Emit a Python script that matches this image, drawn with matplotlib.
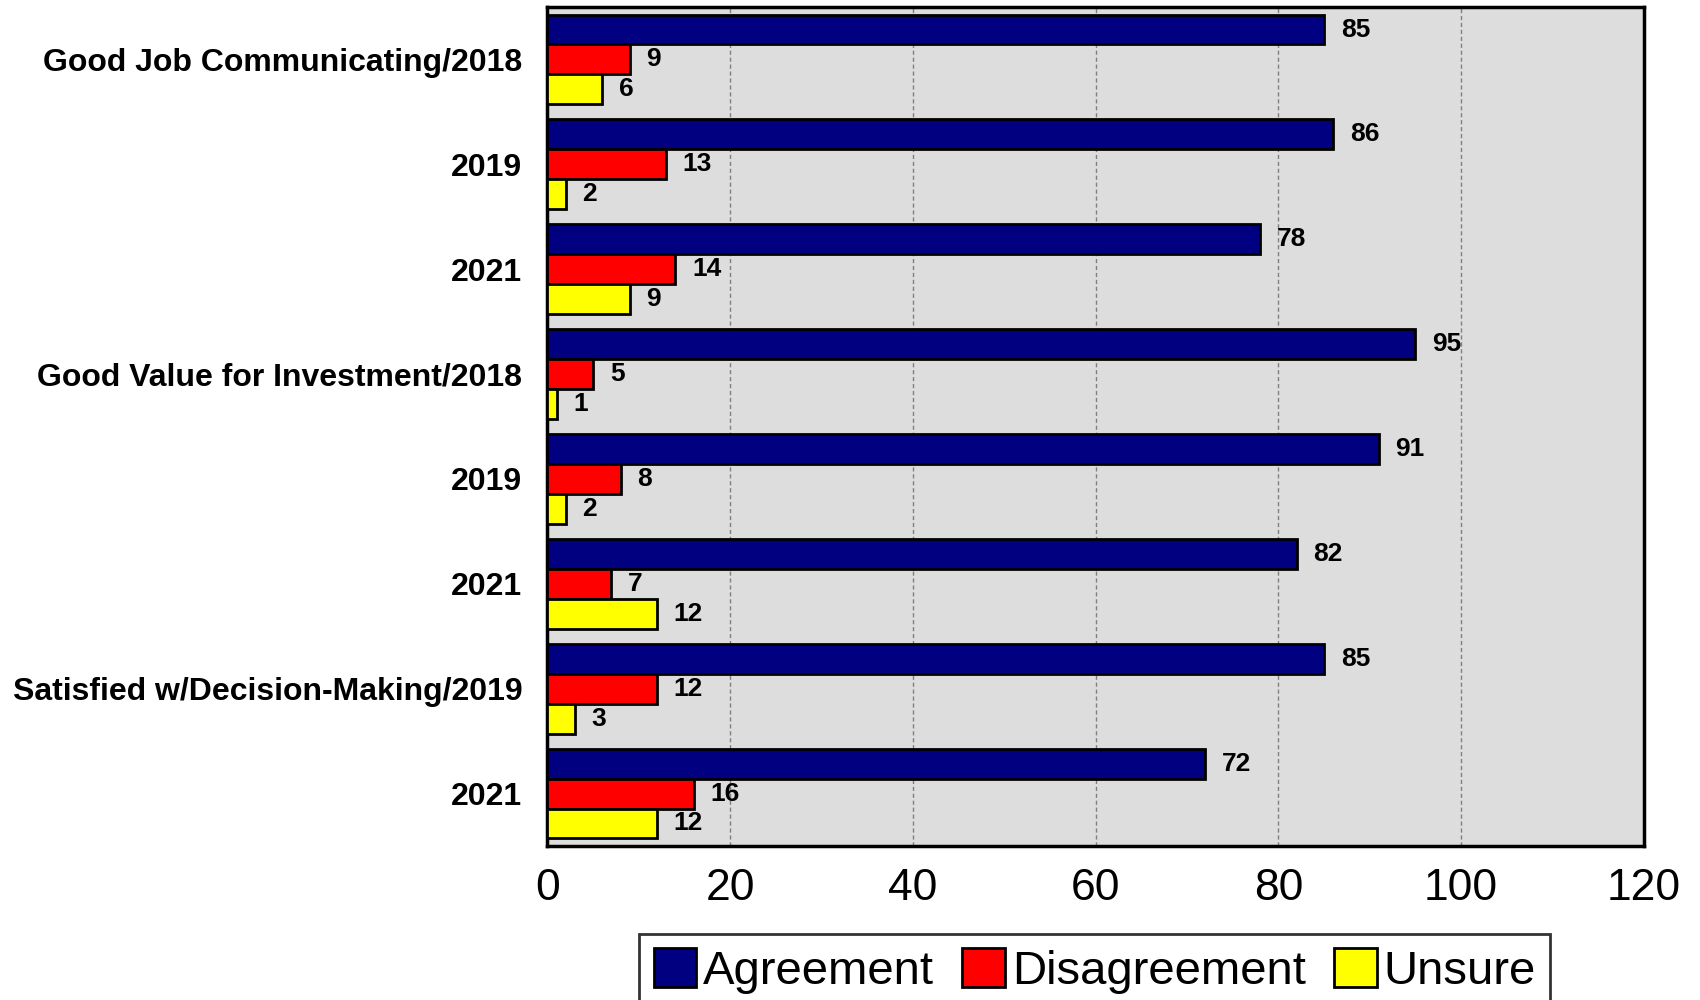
import numpy as np
import matplotlib.pyplot as plt

# survey results, top to bottom
categories = ["Good Job Communicating/2018", "2019", "2021",
              "Good Value for Investment/2018", "2019", "2021",
              "Satisfied w/Decision-Making/2019", "2021"]
agreement = [85, 86, 78, 95, 91, 82, 85, 72]
disagreement = [9, 13, 14, 5, 8, 7, 12, 16]
unsure = [6, 2, 9, 1, 2, 12, 3, 12]

series = [("Agreement", agreement, "#000080"),
          ("Disagreement", disagreement, "#FF0000"),
          ("Unsure", unsure, "#FFFF00")]

plt.rcParams["font.family"] = ["Liberation Sans", "DejaVu Sans"]

fig = plt.figure(figsize=(17, 10), dpi=100)
ax = fig.add_axes([0.322, 0.154, 0.645, 0.839])
ax.set_facecolor("#DDDDDD")

y = np.arange(len(categories))
h = 0.285
for i, (name, vals, col) in enumerate(series):
    pos = y + (i - 1) * h
    bars = ax.barh(pos, vals, height=h, color=col, edgecolor="black",
                   linewidth=2, label=name, zorder=3)
    for b, v in zip(bars, vals):
        ax.annotate(str(v), (v, b.get_y() + h / 2), xytext=(12, 0),
                    textcoords="offset points", va="center", ha="left",
                    fontsize=19, fontweight="bold", zorder=4)

ax.set_xlim(0, 120)
ax.set_ylim(len(categories) - 0.5, -0.5)
ax.set_xticks(range(0, 121, 20))
ax.set_yticks(y)
ax.set_yticklabels(categories, fontsize=23, fontweight="bold")
ax.tick_params(axis="y", length=0, pad=18)
ax.tick_params(axis="x", length=0, labelsize=32, pad=16)
ax.grid(axis="x", linestyle=(0, (3, 2)), color="#808080", linewidth=1, zorder=0)
for s in ax.spines.values():
    s.set_linewidth(2.5)
    s.set_color("black")

leg = ax.legend(loc="upper center", bbox_to_anchor=(0.644, 0.066),
                bbox_transform=fig.transFigure, ncol=3, fontsize=34,
                frameon=True, fancybox=False, edgecolor="black",
                borderaxespad=0, handlelength=0.9, handleheight=0.9,
                handletextpad=0.15, columnspacing=0.6, borderpad=0.3)
leg.get_frame().set_linewidth(2)

fig.savefig("out.png", dpi=100)
